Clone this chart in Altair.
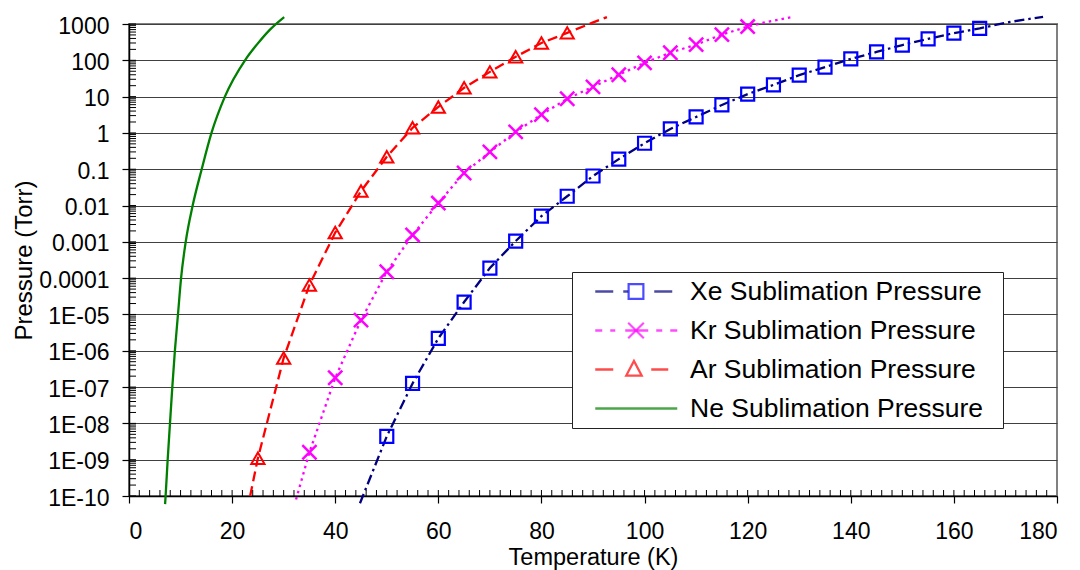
import altair as alt
import pandas as pd

# ---------------- data ----------------
series_names = ["Xe Sublimation Pressure", "Kr Sublimation Pressure",
                "Ar Sublimation Pressure", "Ne Sublimation Pressure"]
line_colors = ["#000080", "#FF00FF", "#FF0000", "#008000"]
marker_colors = ["#0000FF", "#FF00FF", "#FF0000"]

# Xe markers (every 5 K)
xe_T = [50, 55, 60, 65, 70, 75, 80, 85, 90, 95, 100, 105, 110, 115, 120,
        125, 130, 135, 140, 145, 150, 155, 160, 165]
xe_P = [4.4e-9, 1.26e-7, 2.2e-6, 2.2e-5, 1.9e-4, 1.05e-3, 5.1e-3, 1.8e-2,
        6.5e-2, 0.19, 0.52, 1.29, 2.75, 5.9, 11.7, 21, 39, 65, 109, 170,
        263, 390, 560, 760]
# Xe line (markers plus the visible ends of the curve)
xe_line_T = [44.8] + xe_T + [170.9, 177.3]
xe_line_P = [6.3e-11] + xe_P + [1140, 1580]

# Kr
kr_T = [35, 40, 45, 50, 55, 60, 65, 70, 75, 80, 85, 90, 95, 100, 105, 110,
        115, 120]
kr_P = [1.6e-9, 1.8e-7, 7.0e-6, 1.5e-4, 1.55e-3, 1.17e-2, 0.079, 0.30, 1.07,
        3.2, 8.7, 18.6, 40, 85, 162, 270, 510, 850]
kr_line_T = [32.4] + kr_T + [123.7, 128.6]
kr_line_P = [8.0e-11] + kr_P + [1140, 1550]

# Ar
ar_T = [25, 30, 35, 40, 45, 50, 55, 60, 65, 70, 75, 80, 85]
ar_P = [1.1e-9, 6.3e-7, 6.5e-5, 1.8e-3, 0.025, 0.22, 1.38, 5.2, 17.5, 48,
        125, 300, 570]
ar_line_T = [23.5] + ar_T + [89.8, 92.7]
ar_line_P = [1.0e-10] + ar_P + [1070, 1550]

# Ne (line only)
ne_T = [7.0, 7.1, 7.5, 7.95, 8.4, 8.9, 9.5, 10.1, 11.0, 12.35, 14.1, 16.0,
        18.6, 22.5, 24.8, 27.3, 30.1]
ne_P = [6e-11, 1e-10, 1e-9, 1e-8, 1e-7, 1e-6, 1e-5, 1e-4, 1e-3, 1e-2, 0.1,
        1.0, 10, 100, 270, 690, 1550]

# axis ticks
x_ticks = [0, 20, 40, 60, 80, 100, 120, 140, 160, 180]
y_ticks = [1e-10, 1e-9, 1e-8, 1e-7, 1e-6, 1e-5, 1e-4, 1e-3, 1e-2, 1e-1,
           1, 10, 100, 1000]
y_tick_labels = ["1E-10", "1E-09", "1E-08", "1E-07", "1E-06", "1E-05",
                 "0.0001", "0.001", "0.01", "0.1", "1", "10", "100", "1000"]
x_inner_ticks = list(range(2, 180, 2))
y_inner_ticks = [m * 10.0 ** k for k in range(-10, 3) for m in range(1, 10)] + [1000]

# legend line dash patterns (pixels along the legend sample, from its left end)
legend_dashes = [
    [18, 10, 5, 26, 18, 1000],
    [7, 8, 5, 10, 23, 8, 6, 8, 7, 1000],
    [18, 38, 17, 1000],
    [82, 1000],
]
# legend marker glyphs (unit box -1..1 of the 82 px legend sample)
legend_marker_keys = ["Xe", "Kr", "Ar", "Ne"]
legend_marker_paths = [
    "M-0.18,-0.18H0.18V0.18H-0.18Z",
    "M-0.19,-0.19L0.19,0.19M-0.19,0.19L0.19,-0.19",
    "M-0.24,0.15L-0.05,-0.21L0.14,0.15Z",
    "M0,0",
]
legend_marker_colors = ["#0000FF", "#FF00FF", "#FF0000", "#FFFFFF"]

# ---------------- chart ----------------
W, H = 928, 472
FONT = "Liberation Sans"

x_scale = alt.Scale(domain=[0, 180], nice=False, zero=False)
y_scale = alt.Scale(type="log", domain=[1e-10, 1000], nice=False)

label_expr = ("[" + ",".join(f"'{s}'" for s in y_tick_labels) +
              "][round(log(datum.value)/LN10)+10]")

x_axis = alt.Axis(values=x_ticks, title="Temperature (K)", grid=False,
                  format="d", labelFontSize=23, labelFont=FONT,
                  labelBaseline="alphabetic", labelPadding=35.5,
                  tickSize=7, titleFontSize=23.5, titleFont=FONT,
                  titleFontWeight="normal", titleBaseline="alphabetic",
                  titleY=68, titleX=W / 2)
y_axis = alt.Axis(values=y_ticks, title="Pressure (Torr)", grid=True,
                  labelExpr=label_expr, labelFontSize=23, labelFont=FONT,
                  labelPadding=13, labelOffset=2, tickSize=7,
                  titleFontSize=24, titleFont=FONT, titleFontWeight="normal",
                  titleBaseline="alphabetic", titleX=-97.5, titleY=H / 2,
                  titleAngle=-90)


def xenc(field="T"):
    return alt.X(f"{field}:Q", scale=x_scale, axis=x_axis)


def yenc(field="P"):
    return alt.Y(f"{field}:Q", scale=y_scale, axis=y_axis)


layers = []

# lines
line_sets = [
    (xe_line_T, xe_line_P, line_colors[0], [10, 4, 2.5, 4], "linear"),
    (kr_line_T, kr_line_P, line_colors[1], [2.5, 4], "linear"),
    (ar_line_T, ar_line_P, line_colors[2], [10, 5], "linear"),
    (ne_T, ne_P, line_colors[3], None, "monotone"),
]
for T, P, col, dash, interp in reversed(line_sets):
    kw = dict(color=col, strokeWidth=2.3, clip=False, interpolate=interp)
    if dash:
        kw["strokeDash"] = dash
    layers.append(
        alt.Chart(pd.DataFrame({"T": T, "P": P})).mark_line(**kw)
        .encode(x=xenc(), y=yenc())
    )

# markers
x_shape = "M-1,-1L1,1M-1,1L1,-1"
marker_sets = [
    (ar_T, ar_P, marker_colors[2], "triangle-up", 175, 2),
    (kr_T, kr_P, marker_colors[1], x_shape, 200, 2.5),
    (xe_T, xe_P, marker_colors[0], "square", 169, 2.2),
]
for T, P, col, shp, sz, sw in marker_sets:
    layers.append(
        alt.Chart(pd.DataFrame({"T": T, "P": P}))
        .mark_point(shape=shp, size=sz, filled=False, color=col,
                    strokeWidth=sw, opacity=1, clip=False)
        .encode(x=xenc(), y=yenc())
    )

# inner (minor) ticks
layers.append(
    alt.Chart(pd.DataFrame({"v": x_inner_ticks}))
    .mark_rule(color="black", strokeWidth=1)
    .encode(x=xenc("v"), y=alt.value(H - 6), y2=alt.value(H))
)
layers.append(
    alt.Chart(pd.DataFrame({"v": y_inner_ticks}))
    .mark_rule(color="black", strokeWidth=1)
    .encode(y=yenc("v"), x=alt.value(0), x2=alt.value(7))
)

legend_df = pd.DataFrame({"series": series_names, "k": legend_marker_keys,
                          "T": [-1, -1, -1, -1]})

# legend box + line samples (bottom legend; a long sample line sets the box width)
leg1 = alt.Legend(orient="none", legendX=443, legendY=248, title=None,
                  padding=1, clipHeight=37, rowPadding=2,
                  symbolSize=405 * 405, symbolOffset=20.75,
                  symbolType="M-1,0H1", symbolStrokeWidth=2.5,
                  symbolFillColor="transparent",
                  strokeColor="#222222", fillColor="white",
                  labelExpr="''", labelOffset=0, labelFontSize=26.5)
layers.append(
    alt.Chart(legend_df).mark_point(filled=False, strokeWidth=2.5)
    .transform_filter("datum.T > 0")
    .encode(
        color=alt.Color("series:N", scale=alt.Scale(domain=series_names,
                                                     range=line_colors),
                        legend=leg1),
        strokeDash=alt.StrokeDash("series:N",
                                  scale=alt.Scale(domain=series_names,
                                                  range=legend_dashes),
                                  legend=leg1),
    )
)
# legend markers + labels (drawn on top, transparent box)
leg2 = alt.Legend(orient="none", legendX=443, legendY=248, title=None,
                  padding=1, clipHeight=37, rowPadding=2,
                  symbolSize=6724, symbolOffset=20.5, labelOffset=11.5,
                  labelFontSize=26.5, labelFont=FONT, labelLimit=500,
                  labelBaseline="middle", labelColor="black",
                  labelExpr="datum.label + ' Sublimation Pressure'",
                  strokeColor="transparent", fillColor="transparent",
                  symbolStrokeWidth=2.2, symbolFillColor="transparent")
layers.append(
    alt.Chart(legend_df).mark_point(filled=False, strokeWidth=2.2)
    .transform_filter("datum.T > 0")
    .encode(
        stroke=alt.Stroke("k:N", scale=alt.Scale(domain=legend_marker_keys,
                                                  range=legend_marker_colors),
                          legend=leg2),
        shape=alt.Shape("k:N", scale=alt.Scale(domain=legend_marker_keys,
                                                range=legend_marker_paths),
                        legend=leg2),
    )
)

chart = (
    alt.layer(*layers)
    .properties(width=W, height=H, autosize=alt.AutoSizeParams(type="none"),
                padding={"left": 129, "top": 24, "right": 23, "bottom": 74},
                background="white")
    .configure_view(stroke="#808080", strokeWidth=2)
    .configure_axis(domainColor="black", domainWidth=1.5, tickColor="black",
                    tickWidth=1.2, labelColor="black", titleColor="black",
                    gridColor="#404040", gridWidth=1)
)

chart.save("out.html", embed_options={"renderer": "svg", "actions": False})
